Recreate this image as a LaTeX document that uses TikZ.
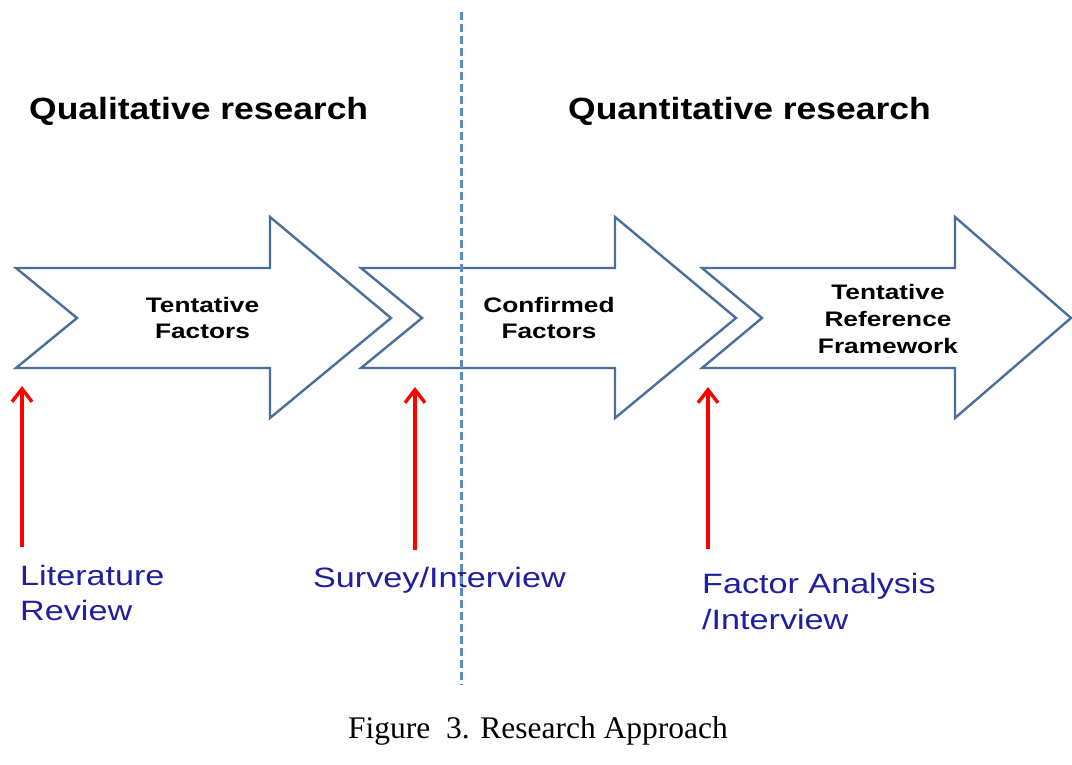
\documentclass[tikz,border=0pt]{standalone}
\usepackage{fontspec}
\setmainfont{Liberation Serif}
\newfontfamily\hdfont[FakeStretch=1.155]{Liberation Sans}
\newfontfamily\boxfont[FakeStretch=1.25]{Liberation Sans}
\newfontfamily\lblfont[FakeStretch=1.22]{Liberation Sans}
\usetikzlibrary{arrows.meta}
\definecolor{outline}{HTML}{4A6F9C}
\definecolor{divider}{HTML}{5A8AC6}
\definecolor{method}{HTML}{1F1F9F}
\definecolor{pointer}{HTML}{FF0000}
\begin{document}
\begin{tikzpicture}[x=1pt,y=-1pt,
  phase/.style={draw=outline,line width=2.4pt,line join=miter,fill=white},
  heading/.style={anchor=base west,inner sep=0pt,font=\hdfont\bfseries\fontsize{30.7}{36}\selectfont},
  boxtext/.style={anchor=base,inner sep=0pt,font=\boxfont\bfseries\fontsize{21}{26}\selectfont},
  methodtext/.style={anchor=base west,inner sep=0pt,text=method,font=\lblfont\fontsize{28}{34}\selectfont},
  pointerarrow/.style={draw=pointer,line width=3.4pt,-{Straight Barb[length=13pt,width=20pt]}},
  dividerline/.style={draw=divider,line width=3pt,dash pattern=on 8pt off 4pt}]
\useasboundingbox[fill=white] (0,0) rectangle (1072,765);

% section headings
\node[heading] (qual) at (29,120) {Qualitative research};
\node[heading] (quant) at (568,120) {Quantitative research};

% the three process arrows
\draw[phase] (16,268) -- (270,268) -- (270,217) -- (391,318) -- (270,418)
  -- (270,368) -- (16,368) -- (77,318) -- cycle;
\draw[phase] (361,268) -- (615,268) -- (615,217) -- (736,318) -- (615,418)
  -- (615,368) -- (361,368) -- (422,318) -- cycle;
\draw[phase] (702,268) -- (955,268) -- (955,217) -- (1071,318) -- (955,418)
  -- (955,368) -- (702,368) -- (762,318) -- cycle;

% arrow captions
\node[boxtext] (a1l1) at (202.5,312) {Tentative};
\node[boxtext] (a1l2) at (202.5,338) {Factors};
\node[boxtext] (a2l1) at (549,312) {Confirmed};
\node[boxtext] (a2l2) at (549,338) {Factors};
\node[boxtext] (a3l1) at (888,299) {Tentative};
\node[boxtext] (a3l2) at (888,326) {Reference};
\node[boxtext] (a3l3) at (888,353) {Framework};

% methods
\node[methodtext] (lit1) at (20,585) {Literature};
\node[methodtext] (lit2) at (20,620) {Review};
\node[methodtext] (surv) at (313,587) {Survey/Interview};
\node[methodtext] (fa1) at (702,593) {Factor Analysis};
\node[methodtext] (fa2) at (702,629) {/Interview};

% red pointers from each method up to its arrow
\coordinate (p1b) at (22,547);  \coordinate (p1t) at (22,386);
\coordinate (p2b) at (415,550); \coordinate (p2t) at (415,387);
\coordinate (p3b) at (708,549); \coordinate (p3t) at (708,387);
\draw[pointerarrow] (p1b) -- (p1t);
\draw[pointerarrow] (p2b) -- (p2t);
\draw[pointerarrow] (p3b) -- (p3t);

% dashed divider between the two research stages
\coordinate (dtop) at (461,12);
\coordinate (dbot) at (461,685);
\draw[dividerline] (dtop) -- (dbot);

% figure caption
\node[anchor=base west,inner sep=0pt,font=\fontsize{31.5}{36}\selectfont] (cap) at (348,738) {Figure\ \ 3. Research Approach};
\end{tikzpicture}
\end{document}
